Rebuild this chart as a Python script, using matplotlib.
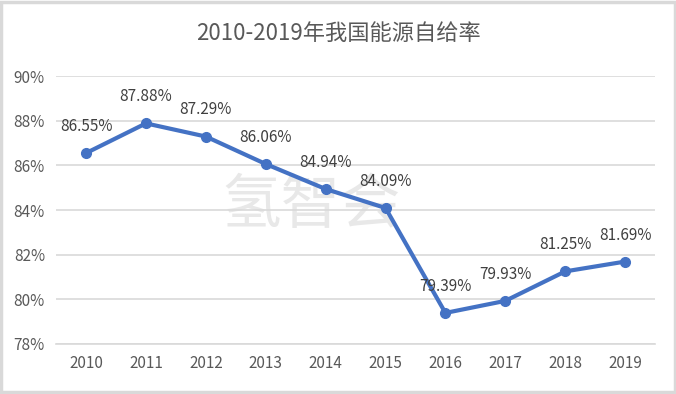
import matplotlib.pyplot as plt
from matplotlib.patches import Rectangle

plt.rcParams['font.family'] = ['Noto Sans CJK SC', 'DejaVu Sans']

years = ['2010', '2011', '2012', '2013', '2014', '2015', '2016', '2017', '2018', '2019']
rate = [86.55, 87.88, 87.29, 86.06, 84.94, 84.09, 79.39, 79.93, 81.25, 81.69]
yticks = [78, 80, 82, 84, 86, 88, 90]
title = '2010-2019年我国能源自给率'

fig = plt.figure(figsize=(6.76, 3.94), dpi=100)
fig.patches.append(Rectangle((0.002, 0.004), 0.996, 0.992, transform=fig.transFigure,
                             fill=False, edgecolor='#D9D9D9', lw=2.5))
ax = fig.add_axes([0.083, 0.127, 0.886, 0.68])
ax.patch.set_alpha(0)
ax.set_zorder(2)

x = range(len(years))
ax.plot(x, rate, color='#4472C4', lw=3, marker='o', ms=7, zorder=3)
for i, v in zip(x, rate):
    ax.annotate(f'{v:.2f}%', (i, v), xytext=(0, 13), textcoords='offset points',
                ha='center', va='bottom', fontsize=11, color='#404040', zorder=4)

ax.set_xlim(-0.5, len(years) - 0.5)
ax.set_ylim(78, 90)
ax.set_yticks(yticks)
ax.set_yticklabels([f'{t}%' for t in yticks])
ax.set_xticks(list(x))
ax.set_xticklabels(years)
ax.tick_params(length=0, labelsize=11, labelcolor='#595959', pad=8)
ax.grid(axis='y', color='#D9D9D9', lw=1.2)
ax.set_axisbelow(True)
for s in ['top', 'right', 'left']:
    ax.spines[s].set_visible(False)
ax.spines['bottom'].set_color('#D9D9D9')
ax.spines['bottom'].set_linewidth(1.2)

fig.text(0.5, 0.915, title, ha='center', va='center', fontsize=16, color='#595959')
fig.text(0.46, 0.475, '氢智会', ha='center', va='center', fontsize=43,
         color='#E8E8E8', fontweight='light', zorder=0)

fig.savefig('out.png', dpi=100)
